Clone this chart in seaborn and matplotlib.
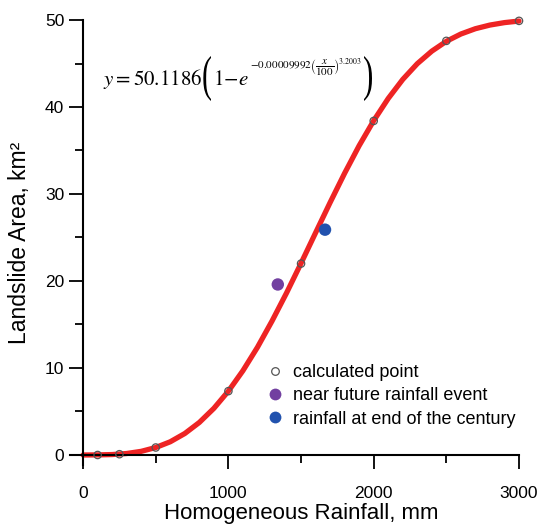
import numpy as np
import pandas as pd
import seaborn as sns
import matplotlib.pyplot as plt
import matplotlib.transforms as mtransforms
from matplotlib.lines import Line2D
from matplotlib.ticker import MultipleLocator
from matplotlib.textpath import TextPath
from matplotlib.patches import PathPatch
from matplotlib.font_manager import FontProperties

## DATA
# fitted curve, every 100 mm
curve_x = [0, 100, 200, 300, 400, 500, 600, 700, 800, 900, 1000,
           1100, 1200, 1300, 1400, 1500, 1600, 1700, 1800, 1900, 2000,
           2100, 2200, 2300, 2400, 2500, 2600, 2700, 2800, 2900, 3000]
curve_y = [0.0, 0.01, 0.05, 0.17, 0.42, 0.86, 1.52, 2.47, 3.74, 5.36, 7.34,
           9.69, 12.38, 15.39, 18.62, 22.04, 25.54, 29.02, 32.39, 35.56, 38.43,
           40.98, 43.17, 44.98, 46.42, 47.55, 48.39, 49.00, 49.42, 49.70, 49.88]

# calculated points
calc_x = [100, 250, 500, 1000, 1500, 2000, 2500, 3000]
calc_y = [0.0, 0.09, 0.86, 7.34, 22.0, 38.4, 47.6, 49.9]

# scenario events
near_x, near_y = [1340], [19.6]
end_x, end_y = [1665], [25.9]

legend_labels = ["calculated point", "near future rainfall event",
                 "rainfall at end of the century"]

## STYLE
sns.set_style("ticks")
plt.rcParams["font.family"] = ["Liberation Sans", "DejaVu Sans"]
plt.rcParams["mathtext.fontset"] = "stix"
for k in ["text.color", "axes.labelcolor", "xtick.color", "ytick.color"]:
    plt.rcParams[k] = "black"

red = "#ee2424"
purple = "#7240a0"
blue = "#2152ae"

W, H = 539, 525
fig = plt.figure(figsize=(W / 100, H / 100), dpi=100)
ax = fig.add_axes([0.1299, 0.1143, 0.833, 0.8476])

df_curve = pd.DataFrame({"x": curve_x, "y": curve_y})
df_calc = pd.DataFrame({"x": calc_x, "y": calc_y})

sns.lineplot(data=df_curve, x="x", y="y", ax=ax, color=red, lw=3.8,
             clip_on=False, zorder=2)
ax.scatter(df_calc["x"], df_calc["y"], s=28, facecolor="none",
           edgecolor="#555555", linewidth=0.9, zorder=3, clip_on=False)
sns.scatterplot(x=near_x, y=near_y, ax=ax, color=purple, s=80,
                edgecolor="none", zorder=4)
sns.scatterplot(x=end_x, y=end_y, ax=ax, color=blue, s=80,
                edgecolor="none", zorder=4)

## AXES
ax.set_xlim(-90, 3000)
ax.set_ylim(-1.15, 50)
ax.spines["left"].set_position(("data", 0))
ax.spines["bottom"].set_position(("data", 0))
ax.spines["right"].set_visible(False)
ax.spines["top"].set_visible(False)
for s in ["left", "bottom"]:
    ax.spines[s].set_linewidth(1.5)
    ax.spines[s].set_color("black")
ax.spines["left"].set_bounds(-1.15, 50)
ax.spines["bottom"].set_bounds(-90, 3000)

ax.xaxis.set_major_locator(MultipleLocator(1000))
ax.xaxis.set_minor_locator(MultipleLocator(500))
ax.yaxis.set_major_locator(MultipleLocator(10))
ax.yaxis.set_minor_locator(MultipleLocator(5))
ax.tick_params(which="both", bottom=True, left=True, top=False, right=False,
               direction="out", width=1.3, color="black")
ax.tick_params(which="major", length=10, labelsize=12.5)
ax.tick_params(which="minor", length=6)
ax.tick_params(axis="x", which="major", pad=12)

ax.set_xlabel("Homogeneous Rainfall, mm", fontsize=16)
ax.set_ylabel("Landslide Area, km²", fontsize=16.5)
ax.xaxis.set_label_coords(0.514, -0.085)
ax.yaxis.set_label_coords(-0.088, 0.5)

## EQUATION (built from pieces so the brackets can be tall)
def px(x, y):
    return x / W, 1 - y / H

def tall_bracket(ch, x0, x1, ytop, ybot):
    tp = TextPath((0, 0), ch, size=20, prop=FontProperties(family="Liberation Serif"))
    v = tp.vertices
    bx0, by0 = v.min(axis=0)
    bx1, by1 = v.max(axis=0)
    tr = (mtransforms.Affine2D()
          .translate(-bx0, -by0)
          .scale((x1 - x0) / (bx1 - bx0), (ybot - ytop) / (by1 - by0))
          .translate(x0, H - ybot))
    fig.add_artist(PathPatch(tp, transform=tr, facecolor="black", edgecolor="none"))

eq_base = 85
fig.text(*px(103, eq_base), r"$y = 50.1186$", fontsize=15, va="baseline")
tall_bracket("(", 202, 211, 56, 101)
fig.text(*px(213, eq_base), r"$1\!-\!e$", fontsize=15, va="baseline")
fig.text(*px(250, 68), r"$-0.00009992\left(\dfrac{x}{100}\right)^{3.2003}$",
         fontsize=8, va="baseline")
tall_bracket(")", 363, 372, 56, 101)

## LEGEND
handles = [
    Line2D([], [], ls="none", marker="o", markersize=5.5, markerfacecolor="white",
           markeredgecolor="#555555", markeredgewidth=0.9),
    Line2D([], [], ls="none", marker="o", markersize=8.5, markerfacecolor=purple,
           markeredgecolor="none"),
    Line2D([], [], ls="none", marker="o", markersize=8.5, markerfacecolor=blue,
           markeredgecolor="none"),
]
fig.legend(handles, legend_labels, loc="upper left",
           bbox_to_anchor=(0.4935, 0.306), frameon=False, fontsize=13,
           handlelength=1.0, handletextpad=0.5, borderpad=0,
           borderaxespad=0, labelspacing=0.34)

fig.savefig("out.png", dpi=100)
